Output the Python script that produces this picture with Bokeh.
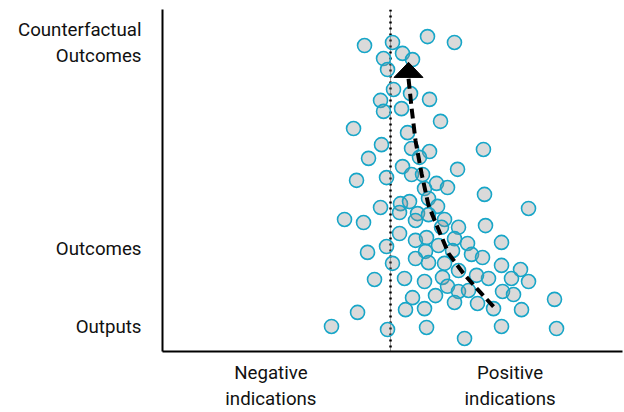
from bokeh.plotting import figure
from bokeh.models import Range1d, FixedTicker, Span
from bokeh.embed import file_html
from bokeh.resources import INLINE

# Scatter data (x: indication score, 0 = neutral line; y: level of result)
x_vals = [-5.65, 0.43, 8.04, 13.9, -1.52, 2.61, 4.78, -0.65, 0.65, 4.35,
          8.48, -2.17, -1.52, 2.39, 10.87, -8.04, 3.70, -1.96, 4.57, 8.48,
          20.2, -4.78, 6.30, 2.61, 14.57, -7.39, -0.87, 4.57, 6.96, 10.0,
          12.39, 7.39, 20.43, -2.17, 2.17, 4.13, 8.26, 10.22, 30.0, -10.0,
          -5.87, 1.96, 5.87, 5.43, 8.26, 11.74, 11.09, 14.78, 20.65, 1.96,
          5.43, 7.83, 10.43, 13.91, 16.74, 13.48, -5.0, -0.87, 7.61, 5.43,
          8.26, 11.74, 17.61, 20.0, 24.13, 0.43, 24.13, 28.26, 30.0, 26.3,
          21.3, 18.7, 14.78, 11.3, 7.39, 3.04, -3.48, 12.39, 14.78, 16.96,
          24.35, 26.74, 4.78, 9.78, 13.91, 18.91, 22.39, 28.48, 35.65, -7.17,
          3.26, 7.39, -12.83, -0.65, 7.83, 24.13, 36.09, 16.09]
y_vals = [89.2, 90.1, 91.8, 90.1, 85.4, 86.9, 85.1, 82.2, 76.4, 75.2,
          73.5, 73.2, 70.0, 70.8, 67.1, 65.0, 63.8, 60.3, 59.2, 58.3,
          58.9, 56.3, 56.6, 53.9, 53.1, 49.9, 50.7, 51.6, 51.6, 49.0,
          47.8, 47.5, 45.8, 42.0, 43.1, 43.7, 44.6, 42.3, 41.7, 38.5,
          37.6, 40.5, 40.2, 38.2, 39.9, 38.5, 36.2, 36.2, 36.7, 34.4,
          32.4, 33.2, 30.9, 32.9, 31.5, 29.4, 28.9, 30.6, 29.2, 27.1,
          25.9, 25.7, 28.3, 27.4, 31.8, 25.7, 25.1, 23.9, 20.4, 21.3,
          21.3, 22.2, 23.6, 21.6, 20.4, 21.3, 21.0, 19.0, 17.5, 17.8,
          17.5, 16.6, 15.7, 16.3, 14.3, 14.0, 12.5, 12.2, 15.2, 11.4,
          12.2, 12.5, 7.3, 6.4, 7.0, 7.3, 6.7, 3.8]

# Axis ticks and labels
y_tick_values = [7, 30, 90]
y_tick_labels = ["Outputs", "Outcomes", "Counterfactual\nOutcomes"]
x_tick_values = [-26, 26]
x_tick_labels = ["Negative\nindications", "Positive\nindications"]

# Neutral reference line
neutral_x = 0

# Trend arrow path (dashed), tip and head size in data units
trend_x = [22.39, 19.13, 15.87, 12.61, 10.22, 8.26, 6.74, 5.43, 4.57, 3.91]
trend_y = [13.1, 17.8, 22.7, 28.6, 36.2, 42.6, 51.9, 61.5, 71.1, 79.6]
tip_x, tip_y = 3.91, 84.3
head_half_width, head_length = 3.15, 4.4

FONT = "Roboto"

p = figure(width=624, height=412,
           x_range=Range1d(-49.57, 50.43), y_range=Range1d(0, 99.7),
           output_backend="svg", toolbar_location=None,
           min_border_left=162, min_border_right=2,
           min_border_top=9, min_border_bottom=61)

p.background_fill_color = "white"
p.border_fill_color = "white"
p.outline_line_color = None
p.xgrid.visible = False
p.ygrid.visible = False

for ax in (p.xaxis, p.yaxis):
    ax.axis_line_width = 2
    ax.axis_line_color = "black"
    ax.major_tick_line_color = None
    ax.minor_tick_line_color = None
    ax.major_tick_out = 0
    ax.major_tick_in = 0
    ax.minor_tick_out = 0
    ax.minor_tick_in = 0
    ax.major_label_text_font = FONT
    ax.major_label_text_font_size = "18.7px"
    ax.major_label_text_color = "#111111"

p.yaxis.ticker = FixedTicker(ticks=y_tick_values)
p.yaxis.major_label_overrides = {v: l for v, l in zip(y_tick_values, y_tick_labels)}
p.yaxis.major_label_standoff = 21

p.xaxis.ticker = FixedTicker(ticks=x_tick_values)
p.xaxis.major_label_overrides = {v: l for v, l in zip(x_tick_values, x_tick_labels)}
p.xaxis.major_label_standoff = 10

# neutral line: thin grey with black dots
p.add_layout(Span(location=neutral_x, dimension="height", line_color="#9a9a9a",
                  line_width=1, level="underlay"))
p.add_layout(Span(location=neutral_x, dimension="height", line_color="black",
                  line_width=2.5, line_dash="2 4", level="underlay"))

p.scatter(x_vals, y_vals, size=14, marker="circle",
          fill_color="#8c8c8c", fill_alpha=0.32,
          line_color="#17a6c8", line_width=1.6)

p.line(trend_x, trend_y, line_color="black", line_width=4, line_dash="10 5")
p.patch([tip_x - head_half_width, tip_x + head_half_width, tip_x],
        [tip_y - head_length, tip_y - head_length, tip_y],
        fill_color="black", line_color="black", line_width=1)

open("out.html", "w").write(file_html(p, INLINE))
